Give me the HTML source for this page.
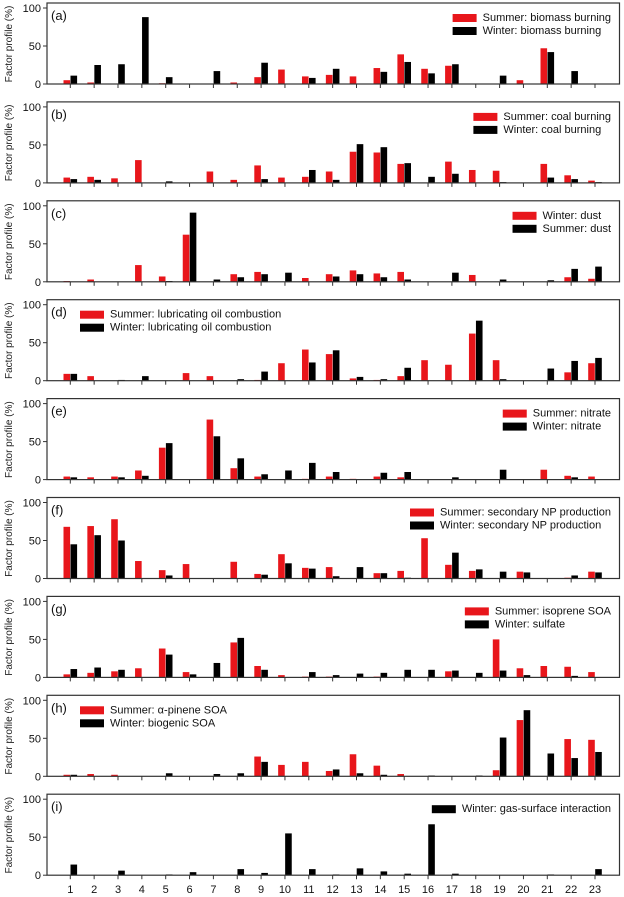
<!DOCTYPE html>
<html><head><meta charset="utf-8">
<style>
html,body{margin:0;padding:0;background:#fff;}
svg{display:block;font-family:"Liberation Sans",Arial,sans-serif;}
</style></head>
<body>
<svg id="chart" width="624" height="897" viewBox="0 0 624 897" xmlns="http://www.w3.org/2000/svg"></svg>
<script>
const categories = [1,2,3,4,5,6,7,8,9,10,11,12,13,14,15,16,17,18,19,20,21,22,23];
const yTicks = [0,50,100];
const panelLetters = ["a","b","c","d","e","f","g","h","i"];
const redLabels = ["Summer: biomass burning","Summer: coal burning","Winter: dust","Summer: lubricating oil combustion","Summer: nitrate","Summer: secondary NP production","Summer: isoprene SOA","Summer: \u03b1-pinene SOA",null];
const blackLabels = ["Winter: biomass burning","Winter: coal burning","Summer: dust","Winter: lubricating oil combustion","Winter: nitrate","Winter: secondary NP production","Winter: sulfate","Winter: biogenic SOA","Winter: gas-surface interaction"];
const legendLeft = [false,false,false,true,false,false,false,true,false];

const redA = [5,2,0,0,1,0,0,2,9,19,10,12,10,21,39,20,24,0,0,5,47,0,0];
const blackA = [11,25,26,88,9,0,17,0,28,0,8,20,0,16,29,14,26,0,11,0,42,17,0];
const redB = [7,8,6,30,0,0,15,4,23,7,8,15,41,40,25,0,28,17,16,0,25,10,3];
const blackB = [5,4,0,0,2,0,0,0,5,0,17,4,51,47,26,8,12,0,1,0,7,5,1];
const redC = [1,3,0,22,7,62,0,10,13,0,5,10,15,11,13,0,0,9,0,0,0,6,4];
const blackC = [0,0,0,0,1,91,3,6,10,12,0,7,10,6,3,0,12,0,3,0,2,17,20];
const redD = [9,6,0,0,0,10,6,0,1,23,41,35,3,1,6,27,21,62,27,0,0,11,23];
const blackD = [9,0,1,6,0,0,0,2,12,0,24,40,5,2,17,0,0,79,2,0,16,26,30];
const redE = [4,3,4,12,42,0,79,15,4,0,1,4,1,4,3,0,0,0,0,0,13,5,4];
const blackE = [3,0,3,5,48,0,57,28,7,12,22,10,0,9,10,0,3,0,13,0,0,3,0];
const redF = [68,69,78,23,11,19,0,22,6,32,14,15,0,7,10,53,18,10,0,9,0,1,9];
const blackF = [45,57,50,0,4,0,0,0,5,20,13,3,15,7,1,0,34,12,9,8,0,4,8];
const redG = [4,6,8,12,38,7,0,46,15,3,1,1,0,1,0,0,8,0,50,12,15,14,7];
const blackG = [11,13,10,0,30,4,19,52,10,0,7,3,5,6,10,10,9,6,9,3,0,2,0];
const redH = [2,3,2,0,0,0,0,0,26,15,19,7,29,14,3,0,0,0,8,74,0,49,48];
const blackH = [2,0,0,0,4,0,3,4,19,0,0,9,4,2,0,1,0,1,51,87,30,24,32];
const redI = null;
const blackI = [14,0,6,0,1,4,0,8,3,55,8,1,9,5,2,67,2,0,0,0,1,0,8];

const redSeries = [redA,redB,redC,redD,redE,redF,redG,redH,redI];
const blackSeries = [blackA,blackB,blackC,blackD,blackE,blackF,blackG,blackH,blackI];

const NS = "http://www.w3.org/2000/svg";
const svg = document.getElementById("chart");
const boxL = 47, boxR = 619.5;
const zero0 = 84, pitch = 98.9, unit = 0.76;
const RED = "#e8161b", BLK = "#000";
function xC(i){ return 70.3 + (i-1)*23.85; }
function mk(tag, attrs, parent){ const e = document.createElementNS(NS, tag); for (const k in attrs) e.setAttribute(k, attrs[k]); (parent||svg).appendChild(e); return e; }

for (let p = 0; p < 9; p++) {
  const z = zero0 + p*pitch;
  const yv = v => z - v*unit;
  const top = z - 81;
  const g = mk("g", {});
  
  
  categories.forEach((c, i) => {
    const rs = redSeries[p];
    if (rs && rs[i] > 0) {
      const r = mk("rect", {x: xC(c)-6.8, y: yv(rs[i]), width: 6.6, height: rs[i]*unit, fill: RED}, g);
      
      
    }
    const bs = blackSeries[p];
    if (bs && bs[i] > 0) {
      const b = mk("rect", {x: xC(c)+0.2, y: yv(bs[i]), width: 6.6, height: bs[i]*unit, fill: BLK}, g);
      
      
    }
  });
  const box = mk("rect", {x: boxL, y: top, width: boxR-boxL, height: z-top, fill: "none", stroke: "#333", "stroke-width": 1.2}, g);
  
  
  yTicks.forEach(t => {
    mk("line", {x1: boxL-4, x2: boxL, y1: yv(t), y2: yv(t), stroke: "#333", "stroke-width": 1}, g);
    const tl = mk("text", {x: boxL-6, y: yv(t)+4, "text-anchor": "end", "font-size": 11, fill: "#111"}, g);
    tl.textContent = t;
    
    
  });
  categories.forEach(c => {
    mk("line", {x1: xC(c), x2: xC(c), y1: z, y2: z+4, stroke: "#333", "stroke-width": 1}, g);
  });
  const yt = mk("text", {x: 0, y: 0, "text-anchor": "middle", "font-size": 10, fill: "#222", transform: "translate(12," + (z-40) + ") rotate(-90)"}, g);
  yt.textContent = "Factor profile (%)";
  
  
  const pl = mk("text", {x: 51, y: top+17, "font-size": 13, fill: "#111"}, g);
  pl.textContent = "(" + panelLetters[p] + ")";
  
  
  const entries = [];
  if (redLabels[p]) entries.push([redLabels[p], RED]);
  entries.push([blackLabels[p], BLK]);
  const texts = [];
  entries.forEach((en, k) => {
    const ly = top + 14 + k*13;
    const lg = mk("g", {}, g);
    
    
    const t = mk("text", {x: 110, y: ly+4, "font-size": 11, fill: "#111"}, lg);
    t.textContent = en[0];
    const sw = mk("rect", {x: 80, y: ly-3, width: 24, height: 8, fill: en[1]}, lg);
    texts.push([t, sw]);
  });
  if (!legendLeft[p]) {
    let maxW = 0;
    texts.forEach(ts => { maxW = Math.max(maxW, ts[0].getComputedTextLength()); });
    const tx = 611 - maxW;
    texts.forEach(ts => { ts[0].setAttribute("x", tx); ts[1].setAttribute("x", tx - 30); });
  }
}
const zLast = zero0 + 8*pitch;
categories.forEach(c => {
  const t = mk("text", {x: xC(c), y: zLast+18, "text-anchor": "middle", "font-size": 11, fill: "#111"});
  t.textContent = c;
  
  
});
</script>
</body></html>
